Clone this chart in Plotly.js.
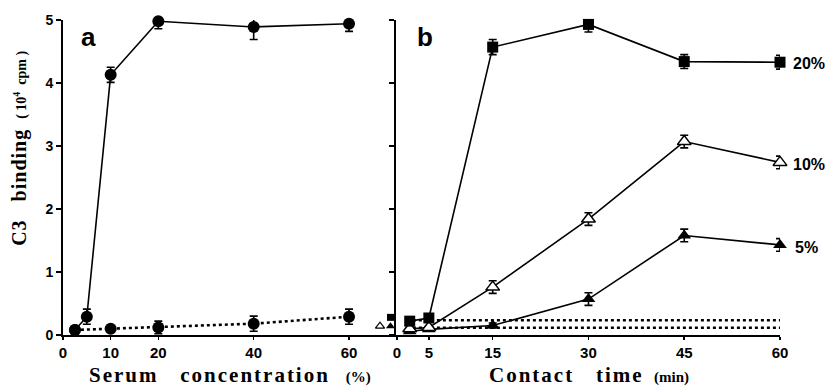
<!DOCTYPE html>
<html>
<head>
<meta charset="utf-8">
<script src="https://cdn.plot.ly/plotly-3.0.1.min.js"></script>
<style>html,body{margin:0;padding:0;background:#fff;}#chart{width:830px;height:387px;}</style>
</head>
<body>
<div id="chart"></div>
<script>
// ---- Panel a: serum concentration (%) ----
const serumX      = [2.5, 5, 10, 20, 40, 60];
const serumY      = [0.08, 0.29, 4.13, 4.98, 4.89, 4.94];
const serumErr    = [0.03, 0.12, 0.12, 0.12, 0.2, 0.12];
const ctrlSerumX  = [2.5, 10, 20, 40, 60];
const ctrlSerumY  = [0.08, 0.1, 0.12, 0.18, 0.29];
const ctrlSerumErr= [0.03, 0.04, 0.1, 0.12, 0.12];
// small reference symbols left of panel b
const refOpenTriX = [66.5], refOpenTriY = [0.14];
const refTriX     = [68.7], refTriY     = [0.14];
const refSqX      = [68.7], refSqY      = [0.28];

// ---- Panel b: contact time (min) ----
const timeX   = [2, 5, 15, 30, 45, 60];
const s20Y    = [0.22, 0.27, 4.57, 4.93, 4.34, 4.33];
const s20Err  = [0.04, 0.04, 0.12, 0.12, 0.11, 0.11];
const s10Y    = [0.1, 0.12, 0.76, 1.84, 3.07, 2.74];
const s10Err  = [0.02, 0.02, 0.1, 0.1, 0.1, 0.1];
const s5Y     = [0.06, 0.09, 0.15, 0.57, 1.58, 1.43];
const s5Err   = [0.02, 0.02, 0.04, 0.1, 0.1, 0.1];
const ctrlTimeX  = [2.5, 60];
const ctrlHighY  = [0.235, 0.235];
const ctrlLowY   = [0.115, 0.115];

const xTicksA = [0, 10, 20, 40, 60];
const xTicksB = [0, 5, 15, 30, 45, 60];
const yTicks  = [0, 1, 2, 3, 4, 5];
const seriesLabels = ['20%', '10%', '5%'];

const K = '#000';
const eb = arr => ({type:'data', array:arr, visible:true, color:K, thickness:1.6, width:4});

const traces = [
  {x:ctrlSerumX, y:ctrlSerumY, xaxis:'x', yaxis:'y', mode:'lines+markers',
   line:{color:K, width:2.6, dash:'dot'}, marker:{symbol:'circle', size:12, color:K},
   error_y:eb(ctrlSerumErr), cliponaxis:false},
  {x:serumX, y:serumY, xaxis:'x', yaxis:'y', mode:'lines+markers',
   line:{color:K, width:1.6}, marker:{symbol:'circle', size:12, color:K},
   error_y:eb(serumErr), cliponaxis:false},
  {x:refOpenTriX, y:refOpenTriY, xaxis:'x', yaxis:'y', mode:'markers',
   marker:{symbol:'triangle-up', size:8, color:'#fff', line:{color:K, width:1.2}}, cliponaxis:false},
  {x:refTriX, y:refTriY, xaxis:'x', yaxis:'y', mode:'markers',
   marker:{symbol:'triangle-up', size:8, color:K}, cliponaxis:false},
  {x:refSqX, y:refSqY, xaxis:'x', yaxis:'y', mode:'markers',
   marker:{symbol:'square', size:7, color:K}, cliponaxis:false},

  {x:ctrlTimeX, y:ctrlHighY, xaxis:'x2', yaxis:'y2', mode:'lines',
   line:{color:K, width:2.6, dash:'dot'}},
  {x:ctrlTimeX, y:ctrlLowY, xaxis:'x2', yaxis:'y2', mode:'lines',
   line:{color:K, width:2.6, dash:'dot'}},
  {x:timeX, y:s5Y, xaxis:'x2', yaxis:'y2', mode:'lines+markers',
   line:{color:K, width:1.6}, marker:{symbol:'triangle-up', size:12, color:K},
   error_y:eb(s5Err), cliponaxis:false},
  {x:timeX, y:s10Y, xaxis:'x2', yaxis:'y2', mode:'lines+markers',
   line:{color:K, width:1.6}, marker:{symbol:'triangle-up', size:12, color:'#fff', line:{color:K, width:1.5}},
   error_y:eb(s10Err), cliponaxis:false},
  {x:timeX, y:s20Y, xaxis:'x2', yaxis:'y2', mode:'lines+markers',
   line:{color:K, width:1.6}, marker:{symbol:'square', size:11, color:K},
   error_y:eb(s20Err), cliponaxis:false}
];

const tickFont = {family:'Liberation Sans, Arial, sans-serif', size:15, color:K, weight:'bold'};
const axBase = {showline:true, linecolor:K, linewidth:2, ticks:'outside', ticklen:5, tickwidth:1.6,
  tickcolor:K, showgrid:false, zeroline:false, tickfont:tickFont, fixedrange:true};

const serif = 'Liberation Serif, Times New Roman, serif';
const sans = 'Liberation Sans, Arial, sans-serif';
const sp = '\u00a0\u00a0\u00a0';
const ls = (s, n) => '<span style="letter-spacing:' + n + 'px">' + s + '</span>';

const layout = {
  width:830, height:387,
  margin:{l:63, r:50, t:20, b:52},
  paper_bgcolor:'#fff', plot_bgcolor:'#fff',
  showlegend:false,
  xaxis:Object.assign({}, axBase, {domain:[0, 0.4644], range:[0, 69.85], anchor:'y',
    tickmode:'array', tickvals:xTicksA, ticktext:xTicksA.map(String), ticklen:3}),
  xaxis2:Object.assign({}, axBase, {domain:[0.4644, 1], range:[-0.15, 60], anchor:'y2',
    tickmode:'array', tickvals:xTicksB, ticktext:xTicksB.map(String), ticklen:3}),
  yaxis:Object.assign({}, axBase, {domain:[0,1], range:[0, 5], anchor:'x',
    tickmode:'array', tickvals:yTicks, ticktext:yTicks.map(String), tickfont:Object.assign({}, tickFont, {size:14})}),
  yaxis2:Object.assign({}, axBase, {domain:[0,1], range:[0, 5], anchor:'x2',
    tickmode:'array', tickvals:yTicks, showticklabels:false}),
  annotations:[
    {text:'a', xref:'paper', yref:'paper', x:0.035, y:0.946, xanchor:'center', yanchor:'middle',
     showarrow:false, font:{family:sans, size:26, weight:'bold', color:K}},
    {text:'b', xref:'paper', yref:'paper', x:0.505, y:0.946, xanchor:'center', yanchor:'middle',
     showarrow:false, font:{family:sans, size:26, weight:'bold', color:K}},
    {text:seriesLabels[0], xref:'paper', yref:'paper', x:1.016, y:0.863, xanchor:'left', yanchor:'middle',
     showarrow:false, font:{family:sans, size:16, weight:'bold', color:K}},
    {text:seriesLabels[1], xref:'paper', yref:'paper', x:1.016, y:0.54, xanchor:'left', yanchor:'middle',
     showarrow:false, font:{family:sans, size:16, weight:'bold', color:K}},
    {text:seriesLabels[2], xref:'paper', yref:'paper', x:1.018, y:0.279, xanchor:'left', yanchor:'middle',
     showarrow:false, font:{family:sans, size:16, weight:'bold', color:K}},
    {text:ls('Serum'+sp+'concentration', 2)+sp+'<span style="font-size:15px">(%)</span>', xref:'paper', yref:'paper',
     x:0.233, y:-0.128, xanchor:'center', yanchor:'middle', showarrow:false,
     font:{family:serif, size:21, weight:'bold', color:K}},
    {text:ls('Contact'+sp+'time', 2)+'\u00a0\u00a0'+'<span style="font-size:15px">(min)</span>', xref:'paper', yref:'paper',
     x:0.733, y:-0.128, xanchor:'center', yanchor:'middle', showarrow:false,
     font:{family:serif, size:21, weight:'bold', color:K}},
    {text:ls('C3'+sp+'binding', 1)+'\u00a0\u00a0'+'<span style="font-size:14px">(\u00a010<sup>4</sup>\u00a0\u00a0cpm\u00a0)</span>', xref:'paper', yref:'paper',
     x:-0.06, y:0.594, xanchor:'center', yanchor:'middle', textangle:-90, showarrow:false,
     font:{family:serif, size:20, weight:'bold', color:K}}
  ]
};

Plotly.newPlot('chart', traces, layout, {staticPlot:true, displayModeBar:false});
</script>
</body>
</html>
